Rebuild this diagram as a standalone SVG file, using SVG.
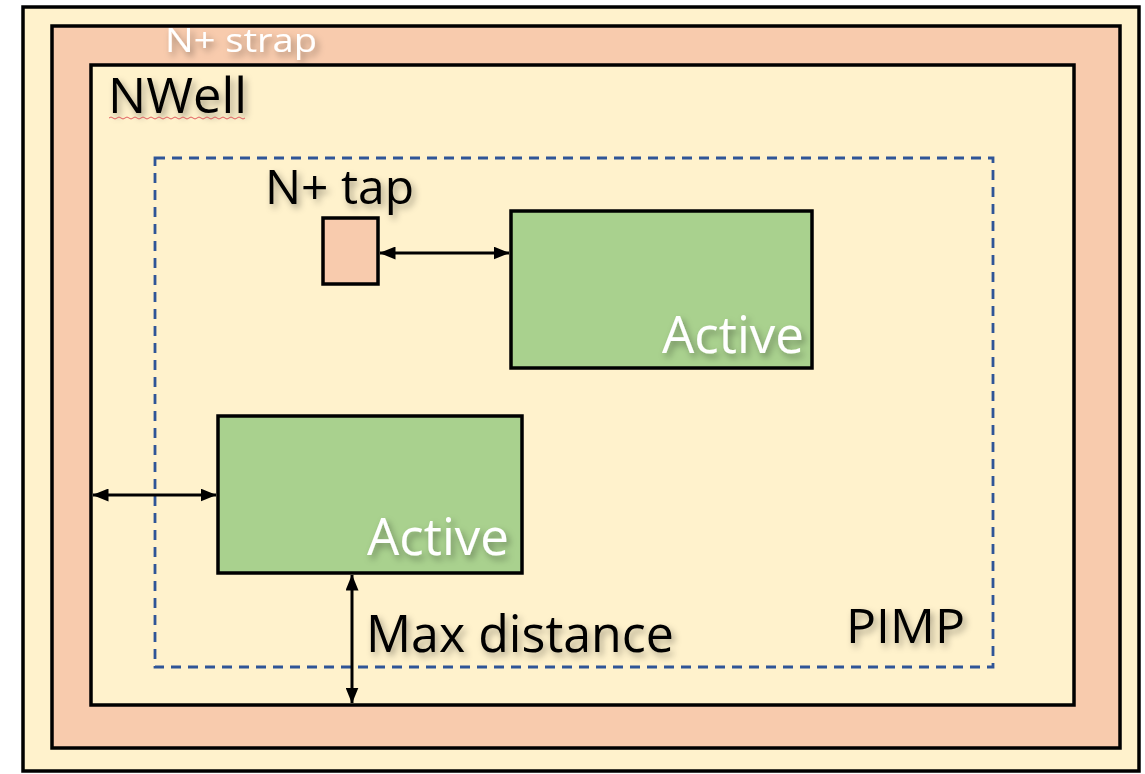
<svg xmlns="http://www.w3.org/2000/svg" width="1145" height="774" viewBox="0 0 1145 774">
<defs>
<style>
.lbl{font-family:"Open Sans","Noto Sans","Liberation Sans",sans-serif;}
.dark{fill:#000;filter:url(#sh);}
.white{fill:#fff;filter:url(#sh);}
.box{stroke:#000;stroke-width:3.5;}
.conn{stroke:#000;stroke-width:3;fill:none;marker-start:url(#ah);marker-end:url(#ah);}
</style>
<filter id="sh" x="-20%" y="-30%" width="150%" height="180%">
<feDropShadow dx="3" dy="4" stdDeviation="3.5" flood-color="#000" flood-opacity="0.35"/>
</filter>
<marker id="ah" viewBox="0 0 16 13" refX="15.5" refY="6.5" markerWidth="16" markerHeight="13" orient="auto-start-reverse" markerUnits="userSpaceOnUse">
<path d="M0,0 L16,6.5 L0,13 z" fill="#000"/>
</marker>
</defs>
<rect x="0" y="0" width="1145" height="774" fill="#fff"/>
<g id="frame"><rect x="23" y="7" width="1116" height="764" fill="#FFF2CC" class="box"/></g>
<g id="strap"><rect x="52" y="26" width="1068" height="722" fill="#F8CBAD" class="box"/>
<text x="165" y="52" class="lbl white" font-size="32" textLength="152" lengthAdjust="spacingAndGlyphs">N+ strap</text></g>
<g id="nwell"><rect x="91" y="65" width="983" height="640" fill="#FFF2CC" class="box"/>
<text x="108" y="113" class="lbl dark" font-size="50" textLength="139" lengthAdjust="spacingAndGlyphs">NWell</text>
<path d="M109,118 q2,-2 4,0 t4,0 t4,0 t4,0 t4,0 t4,0 t4,0 t4,0 t4,0 t4,0 t4,0 t4,0 t4,0 t4,0 t4,0 t4,0 t4,0 t4,0 t4,0 t4,0 t4,0 t4,0 t4,0 t4,0 t4,0 t4,0 t4,0 t4,0 t4,0 t4,0 t4,0 t4,0 t4,0 t4,0" stroke="#E06060" stroke-width="1" fill="none"/></g>
<g id="pimp"><rect x="155" y="158" width="838" height="509" fill="none" stroke="#2F5597" stroke-width="2.8" stroke-dasharray="10,7"/>
<text x="846" y="643" class="lbl dark" font-size="47" textLength="119" lengthAdjust="spacingAndGlyphs">PIMP</text></g>
<g id="tap"><rect x="323" y="218" width="55" height="66" fill="#F8CBAD" class="box"/>
<text x="265" y="204" class="lbl dark" font-size="47" textLength="149" lengthAdjust="spacingAndGlyphs">N+ tap</text></g>
<g id="active1"><rect x="511" y="211" width="301" height="157" fill="#A9D18E" class="box"/>
<text x="662" y="353" class="lbl white" font-size="52" textLength="142" lengthAdjust="spacingAndGlyphs">Active</text></g>
<g id="active2"><rect x="218" y="416" width="304" height="157" fill="#A9D18E" class="box"/>
<text x="367" y="555" class="lbl white" font-size="52" textLength="142" lengthAdjust="spacingAndGlyphs">Active</text></g>
<g id="connectors">
<line x1="380" y1="253" x2="509" y2="253" class="conn"/>
<line x1="93" y1="495" x2="216" y2="495" class="conn"/>
<line x1="352" y1="575" x2="352" y2="703" class="conn"/>
</g>
<g id="maxdist"><text x="366" y="652" class="lbl dark" font-size="52" textLength="308" lengthAdjust="spacingAndGlyphs">Max distance</text></g>
</svg>
